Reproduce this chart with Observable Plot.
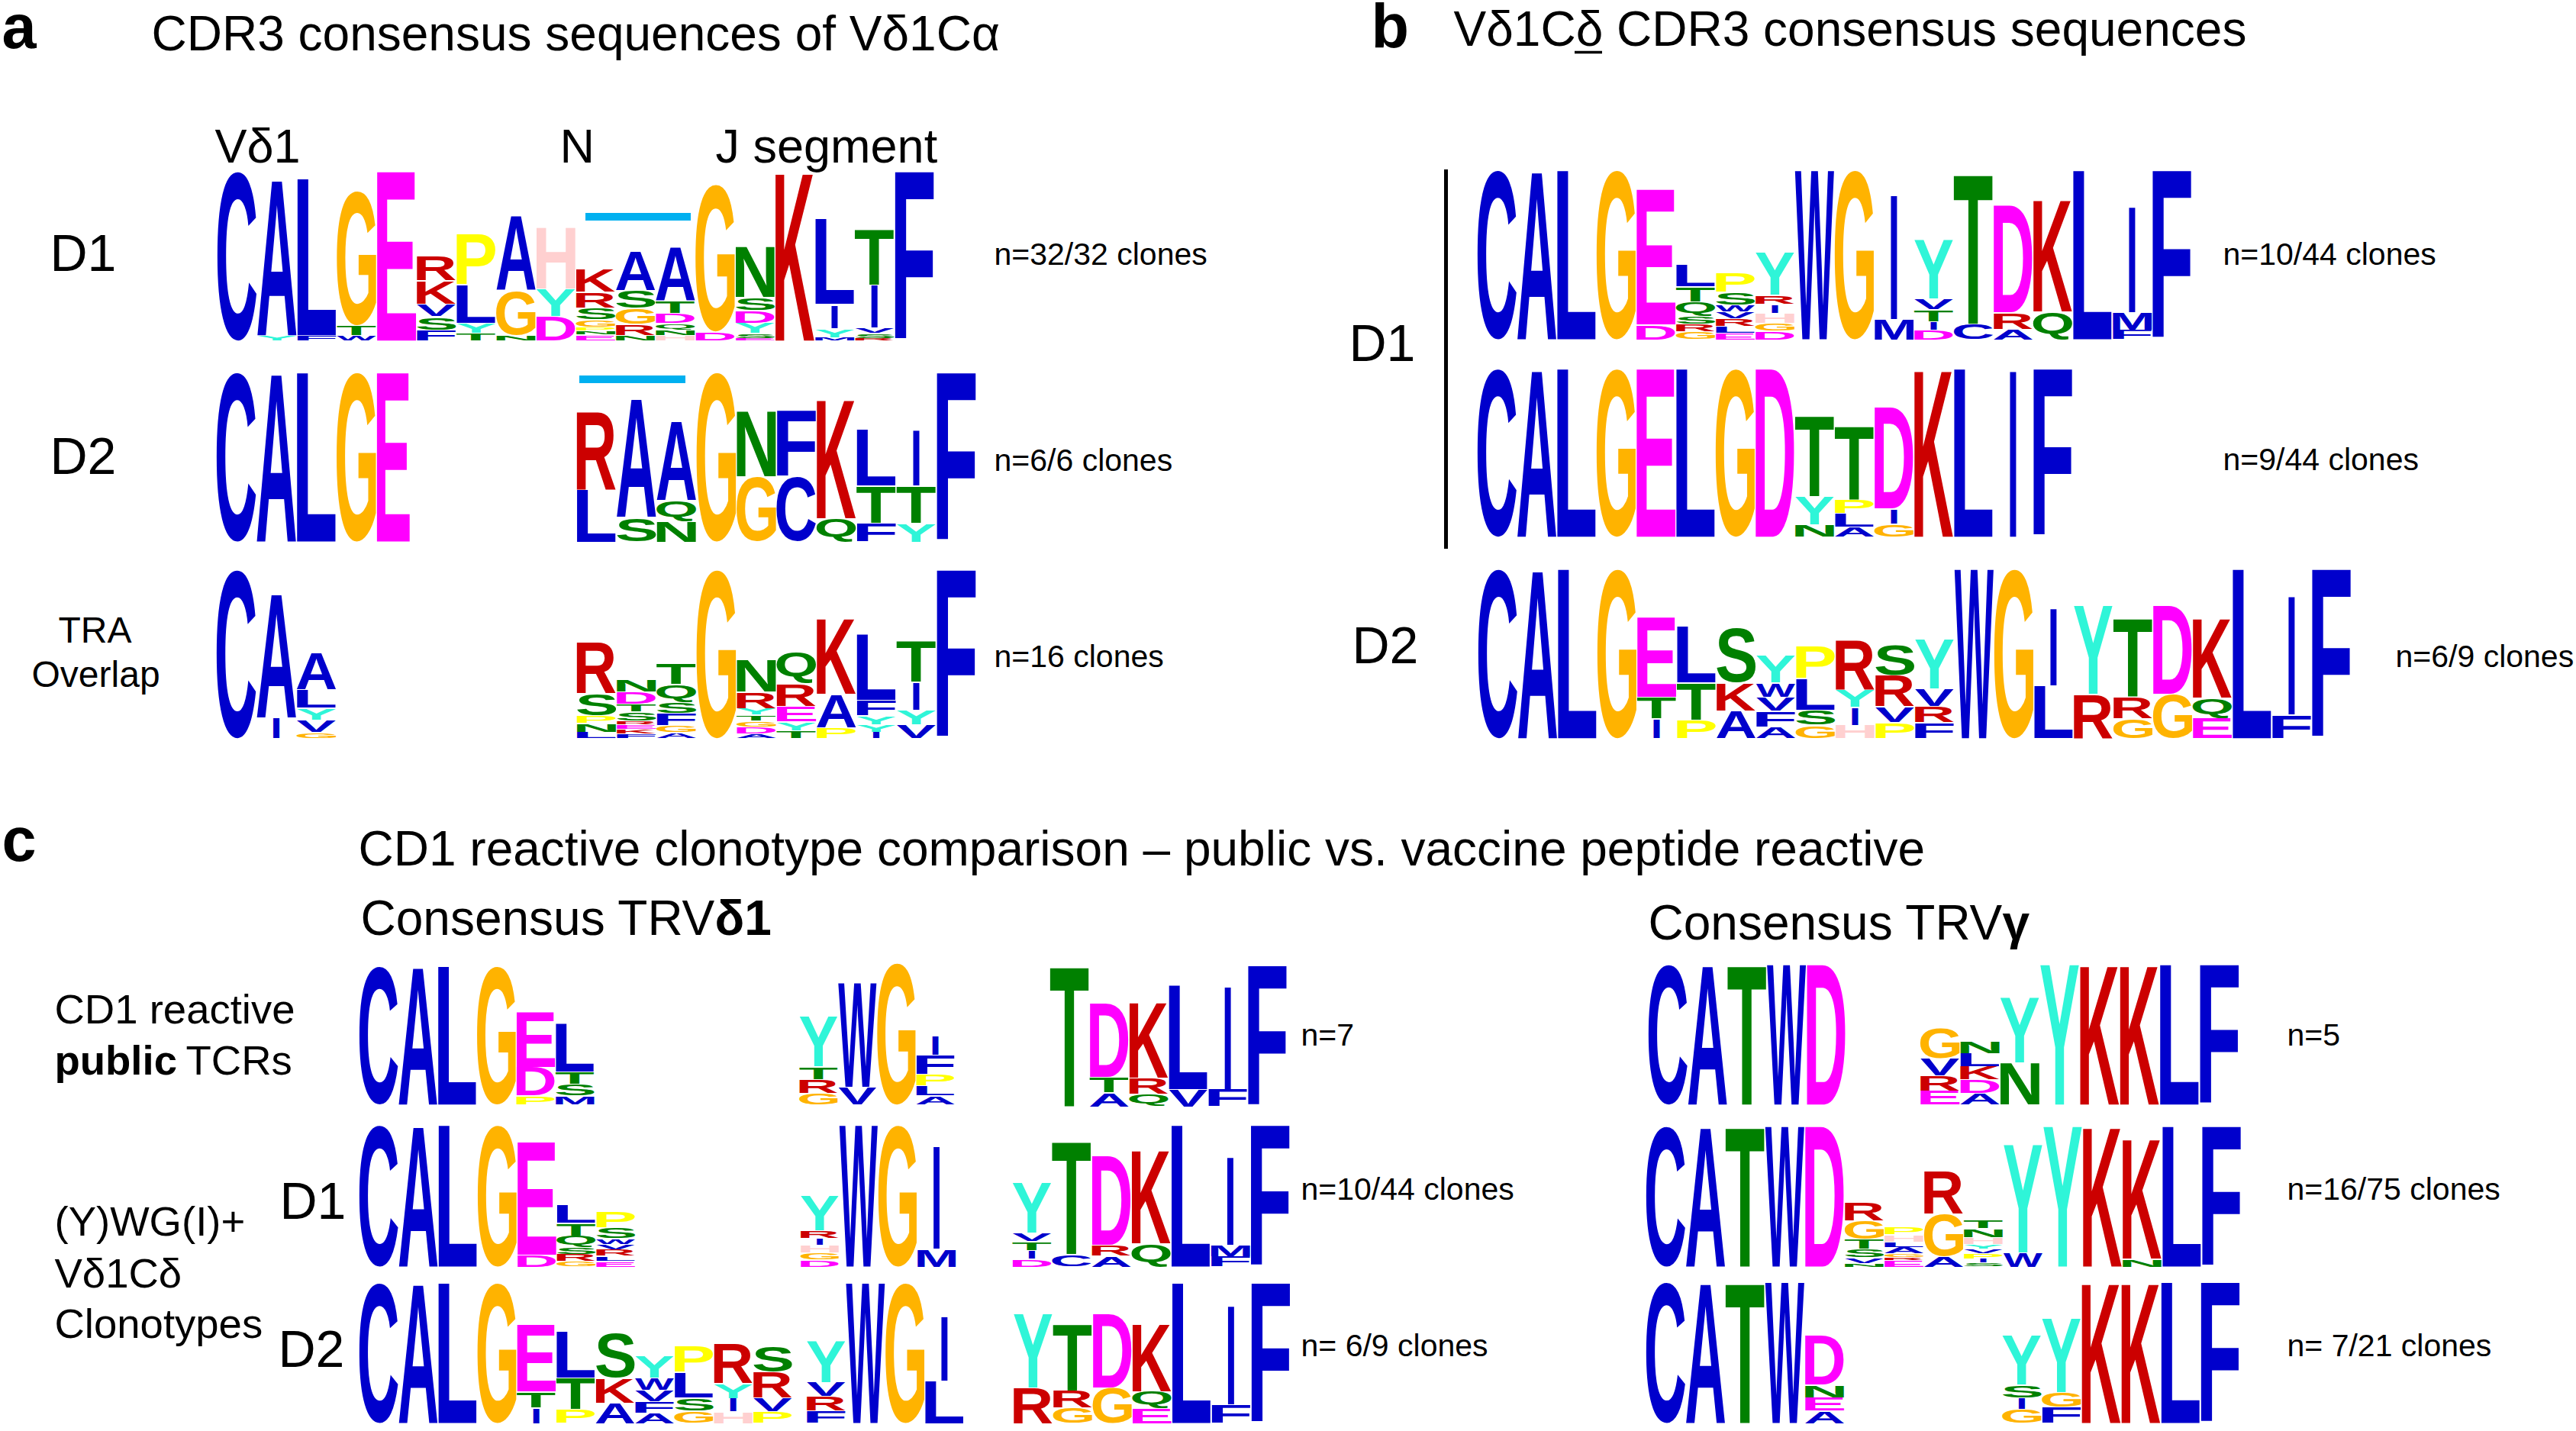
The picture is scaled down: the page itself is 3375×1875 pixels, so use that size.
<!DOCTYPE html>
<html>
<head>
<meta charset="utf-8">
<script src="https://cdn.jsdelivr.net/npm/d3@7"></script>
<script src="https://cdn.jsdelivr.net/npm/@observablehq/plot@0.6"></script>
<style>html,body{margin:0;padding:0;background:#fff}svg{display:block;max-width:none}</style>
</head>
<body>
<div id="chart"></div>
<script>
// Each column lists letter+height (% of full logo height), from the bottom of the stack up.
const aD1 = ["C100","Y2.6 A92.6","F2.6 L92.6","W2.6 T5.3 G79.6","E100","F5.9 S7.3 V6.8 K13.6 R13.6","T4 Y5.3 L22.2 P29.8","N2.9 G25.7 A43.8","D13.9 Y15.6 H36.7","E2.9 N1.7 P1.8 G3.8 S6.5 R8.6 K13.6","N2.6 R6 G9 S10 A22.7","H2.6 N3 Q3.2 D5 T6.8 A32","D4.8 G87","E1 S2.2 Y5.6 D7.1 S7.1 N30","K100","M1.5 Y4.8 I13.6 L50.6","R1 S2.2 V2.6 I25 T33","F100"];
const aD2 = ["C100","A100","L100","G100","E100","","","","","L30.5 R46","S13.9 A70.5","N11.6 Q11.8 A47","G100","G38 N38.5","C38 F38.5","Q13.4 K70.5","F10.4 T21.5 L33","Y10.4 T21.5 I33","F100"];
const aTRA = ["C100","I11.8 A74","G3 V6.8 Y6.5 L10.7 A22","","","","","","","L3.3 N4.5 P4 S12.7 R30.5","F2 K2.5 E2 R1.8 S4.5 T4 D7 N7.3","A3 G3.6 F6.8 S5.8 Q10 T11.5","G100","A2.3 D3.5 G3 T3 Y3.2 R9 N19","T4.2 Y4.5 E8.8 R13 Q18.5","P5.8 A19.4 K45","I3.3 Y4 Y4.5 F8.6 L39","V7.6 Y8.3 I16 T24","F100"];
const bD1a = ["C100","A100","L100","G100","D8.2 E80","G4 R3.8 S4.2 Q8.2 T8.3 L12.5","E3.3 L3.5 R3.8 V3.5 W3.5 S7 P11.3","D4.5 G4.2 H5.3 I4.5 R4.8 Y25","W100","G100","M11.6 I74","D5 I4.4 T6.6 V6 Y35","C8.6 T89","A5.6 R9.4 D63","Q16 K66.5","L100","F5 M10 I63","F100"];
const bD1b = ["C100","A100","L100","G100","E100","L100","G100","D100","N6.8 Y16.4 T47.7","A5.5 L7.6 P7.6 T44","G7.3 I8.4 D60","K100","L100","I100","F100"];
const bD2 = ["C100","A100","L100","G100","I11.3 T12 E47","P10.3 T21.6 L33","A15.9 K16 S32","A6.3 F9 V7.6 W7.6 Y15.6","G7.3 S8.3 L18.2 P18.5","H7.3 I10 Y10 R29","P9 V8.8 R18 S18","F9 R9 V9.6 Y29","W100","G100","L30.5 I46","R25.7 Y52.4","G11.3 R12 T46.5","G25.7 D52","E11.3 Q11.6 K47","L100","F13.6 I70.6","F100"];
const cP1 = ["C100","A100","L100","G100","P5.9 D20.3 E39.3","M5.9 S8.1 T8.3 L35"];
const cP2 = ["G7.6 R9 T8.5 Y35","V12 W73.5","G100","A5.8 L6.3 P7.7 F13.3 I13"];
const cP3 = ["T100","A9.4 T10.3 D52.5","Q8.2 R10.9 K53.4","V11.8 L73.7","F11.8 I73.7","F100"];
const cD1a = ["C100","A100","L100","G100","D8 E80","G3.4 R4.5 S4.2 Q7.6 T8.5 L12.6","E3.4 L3 R4 V3.2 W3.6 S6.9 P11.2"];
const cD1b = ["D4.3 G4.5 H4.9 I4.3 R4.9 Y24.4","W100","G100","M12 I73"];
const cD1c = ["D4.9 I5.4 T5.8 V5.4 Y35","C8.1 T80","A7 R7.2 D63","Q15.7 K66.4","L100","F6.7 M7.6 I62.4","F100"];
const cD2a = ["C100","A100","L100","G100","I10.7 T10.6 E47.9","P9.5 T21.9 L33","A14 K17.3 S31.7","A6.7 F7.7 V7.3 W8.2 Y15.5","G8.2 S8.7 L17.7 P18.6","H7.7 I9 Y10 R28.2","P8 V9.1 R18 S18.2"];
const cD2b = ["F8.6 R9.5 V9.5 Y29","W100","G100","L29.9 I46"];
const cD2c = ["R25 Y52.3","G10.4 R11.8 T47.4","G25 D52.5","E10.4 Q11.3 K48","L100","F13 I70.7","F100"];
const gP1 = ["C100","A100","T100","W100","D100"];
const gP2 = ["E9.5 R10.4 V11.5 G21.8","A7.6 D9.1 K8.9 L8.9 N8.7","N29.5 Y46.5","Y100","K100","K100","L100","F100"];
const gD1 = ["C100","A100","T100","W100","D100","N1.8 V3.6 S5.6 T6.4 G12.7 R12.2","E4 R1.5 G2 A4 L3.3 H4.5 P5","A6.7 G29.8 R30","S2.2 I2.4 P3.3 V2.4 Y2.7 H4.5 N5.8 T5.8","W9.5 Y76.7","Y100","K100","N4.9 K85.5","L100","F100"];
const gD2a = ["C100","A100","T100","W100","A8.2 E8.9 N8.5 D35"];
const gD2b = ["G9.4 I7.6 S8.5 Y34.6","F10.9 G10.1 Y52","K100","K100","L100","F100"];

// Residue colours
const residues = ["C","A","L","F","I","M","V","W","S","T","N","Q","K","R","D","E","G","P","Y","H"];
const residueColors = ["#0000cc","#0000cc","#0000cc","#0000cc","#0000cc","#0000cc","#0000cc","#0000cc","#008000","#008000","#008000","#008000","#cc0000","#cc0000","#ff00ff","#ff00ff","#ffb300","#ffff00","#2ff5d8","#ffd0d0"];

// Placement of each logo block on the page
const logoLayout = [
  {cols:aD1,  x:284,  w:52.2, base:445.7, h:221},
  {cols:aD2,  x:283,  w:52.4, base:709,   h:221, narrow:{4:0.84}},
  {cols:aTRA, x:283,  w:52.4, base:966.7, h:220},
  {cols:bD1a, x:1935, w:52,   base:444,   h:221},
  {cols:bD1b, x:1935, w:52,   base:702.7, h:219.5},
  {cols:bD2,  x:1936, w:52,   base:966.7, h:221},
  {cols:cP1,  x:470,  w:51.4, base:1446.7,h:180.7},
  {cols:cP2,  x:1046.5,w:51,  base:1446.7,h:185},
  {cols:cP3,  x:1375, w:51.8, base:1449,  h:184},
  {cols:cD1a, x:470,  w:51.7, base:1659,  h:184.7},
  {cols:cD1b, x:1048, w:51,   base:1659,  h:184.7},
  {cols:cD1c, x:1325.6,w:52,  base:1659,  h:184.7},
  {cols:cD2a, x:470,  w:51.6, base:1864,  h:183},
  {cols:cD2b, x:1056, w:51.7, base:1864,  h:183},
  {cols:cD2c, x:1327, w:51.9, base:1864,  h:183},
  {cols:gP1,  x:2159, w:51.8, base:1446.7,h:183},
  {cols:gP2,  x:2515, w:52.3, base:1446.7,h:183},
  {cols:gD1,  x:2156, w:52,   base:1659,  h:183.3},
  {cols:gD2a, x:2156, w:52,   base:1864,  h:184},
  {cols:gD2b, x:2622.4,w:52,  base:1864,  h:184}
];

// Text
const plainLabels = [
  ["CDR3 consensus sequences of Vδ1Cα",198,65,64],
  ["Vδ1",281,212,63],["N",733,212,63],["J segment",937,212,63],
  ["D1",65,354,68],["D2",65,620,68],
  ["TRA",76,841,48],["Overlap",41,899,48],
  ["n=32/32 clones",1302,346,41],["n=6/6 clones",1302,616,41],["n=16 clones",1302,873,41],
  ["Vδ1Cδ CDR3 consensus sequences",1904,59,64],
  ["D1",1767,472,68],["D2",1771,868,68],
  ["n=10/44 clones",2912,346,41],["n=9/44 clones",2912,615,41],["n=6/9 clones",3138,873,41],
  ["CD1 reactive clonotype comparison – public vs. vaccine peptide reactive",469,1133,64],
  ["Consensus TRV",472,1224,64],["Consensus TRV",2159,1230,64],
  ["CD1 reactive",71,1340,54.5],["TCRs",243,1407,54.5],
  ["(Y)WG(I)+",71,1618,54.5],["Vδ1Cδ",71,1686,54.5],["Clonotypes",71,1752,54.5],
  ["D1",366,1596,68],["D2",364,1790,68],
  ["n=7",1704,1369,41],["n=10/44 clones",1704,1571,41],["n= 6/9 clones",1704,1776,41],
  ["n=5",2996,1369,41],["n=16/75 clones",2996,1571,41],["n= 7/21 clones",2996,1776,41]
];
const boldLabels = [
  ["a",2,62,81],["b",1796,61,81],["c",2,1127,81],
  ["δ1",936,1224,64],["γ",2623,1230,64],["public",71,1407,54.5]
];
const bars = [{x1:767,x2:905,y1:279,y2:289},{x1:759,x2:898,y1:492,y2:502}];
const divider = [{x:1894,y1:222,y2:719}];
const underline = [{y:68,x1:2063,x2:2099}];

const GAP = 0.6, INK = 0.99, I_WIDTH = 0.17;
const rows = [];
for (const L of logoLayout) {
  L.cols.forEach((col, i) => {
    let acc = 0;
    col.split(" ").filter(Boolean).forEach(tok => {
      const letter = tok[0], pct = +tok.slice(1);
      const scaleH = L.h / 100;
      const frac = letter === "I" ? I_WIDTH : INK;
      const pad = (1 - frac) / 2 * L.w;
      const squeeze = (L.narrow && L.narrow[i]) ? (1 - L.narrow[i]) * L.w : 0;
      rows.push({
        letter,
        x0: L.x + i * L.w + pad,
        x1: L.x + (i + 1) * L.w - pad - squeeze,
        y0: L.base - acc * scaleH,
        y1: L.base - (acc + pct) * scaleH
      });
      acc += pct + GAP;
    });
  });
}

const LOGO_FONT = '"Liberation Sans"';
const measure = document.createElement("canvas").getContext("2d");
measure.font = `bold 100px ${LOGO_FONT}`;
function stretchLetters(index, scales, values, dims, ctx, next) {
  const g = next(index, scales, values, dims, ctx);
  const nodes = g.querySelectorAll("text");
  nodes.forEach((node, k) => {
    const d = rows[index[k]];
    const m = measure.measureText(d.letter);
    const inkW = m.actualBoundingBoxLeft + m.actualBoundingBoxRight;
    const inkH = m.actualBoundingBoxAscent + m.actualBoundingBoxDescent;
    const X0 = scales.x(d.x0), X1 = scales.x(d.x1), Y0 = scales.y(d.y0), Y1 = scales.y(d.y1);
    const sx = (X1 - X0) / inkW, sy = (Y0 - Y1) / inkH;
    node.setAttribute("transform",
      `translate(${X0},${Y0}) scale(${sx},${sy}) translate(${m.actualBoundingBoxLeft},${-m.actualBoundingBoxDescent})`);
  });
  return g;
}

const toRow = ([text, x, y, size]) => ({text, x, y, size});
const labelOpts = {
  x: "x", y: "y", text: "text", fontSize: "size", textAnchor: "start", lineAnchor: "bottom",
  fill: "black", fontFamily: "Liberation Sans"
};

const chart = Plot.plot({
  width: 3375, height: 1875,
  marginTop: 0, marginRight: 0, marginBottom: 0, marginLeft: 0,
  x: {domain: [0, 3375], range: [0, 3375], axis: null},
  y: {domain: [0, 1875], range: [0, 1875], axis: null},
  color: {domain: residues, range: residueColors},
  style: {background: "white"},
  marks: [
    Plot.text(rows, {
      x: "x0", y: "y0", text: "letter", fill: "letter",
      fontSize: 100, fontWeight: "bold", fontFamily: "Liberation Sans",
      textAnchor: "start", lineAnchor: "bottom", render: stretchLetters
    }),
    Plot.rect(bars, {x1: "x1", x2: "x2", y1: "y1", y2: "y2", fill: "#00b0f0"}),
    Plot.ruleX(divider, {x: "x", y1: "y1", y2: "y2", stroke: "black", strokeWidth: 5}),
    Plot.ruleY(underline, {y: "y", x1: "x1", x2: "x2", stroke: "black", strokeWidth: 3.5}),
    Plot.text(plainLabels.map(toRow), labelOpts),
    Plot.text(boldLabels.map(toRow), {...labelOpts, fontWeight: "bold"})
  ]
});
document.getElementById("chart").append(chart);
</script>
</body>
</html>
